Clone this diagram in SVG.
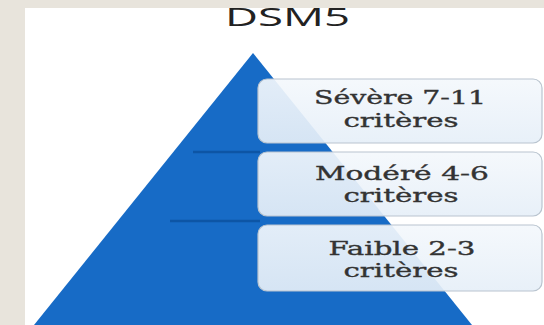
<svg xmlns="http://www.w3.org/2000/svg" width="544" height="325" viewBox="0 0 544 325">
  <defs>
    <linearGradient id="boxFill" x1="0" y1="0" x2="0" y2="1">
      <stop offset="0" stop-color="#f4f8fc"/>
      <stop offset="1" stop-color="#e6eff8"/>
    </linearGradient>
    <style>
      .tier { fill: url(#boxFill); fill-opacity: 0.92; stroke: #b9c4cf; stroke-width: 1.2; }
      .label { font-family: "DejaVu Serif", "Liberation Serif", serif; font-size: 19px; fill: #333333; stroke: #333333; stroke-width: 0.35; text-anchor: middle; }
      .sep { stroke: #0d55a5; stroke-width: 2.5; }
      .title { font-family: "Open Sans", "DejaVu Sans", sans-serif; font-size: 25px; fill: #222222; }
    </style>
  </defs>

  <!-- slide area -->
  <rect x="0" y="0" width="544" height="325" fill="#ffffff"/>

  <!-- title -->
  <text class="title" x="225" y="26" textLength="125" lengthAdjust="spacingAndGlyphs">DSM5</text>

  <!-- page border (top and left), drawn over the title edge -->
  <rect x="0" y="0" width="544" height="8" fill="#e8e4dc"/>
  <rect x="0" y="0" width="25" height="325" fill="#e8e4dc"/>

  <!-- pyramid -->
  <g id="pyramid">
    <polygon points="253,53 472,325 34,325" fill="#176bc6"/>
  </g>

  <!-- tier separators -->
  <g id="connectors">
    <line class="sep" x1="193" y1="152" x2="260" y2="152"/>
    <line class="sep" x1="170" y1="221" x2="260" y2="221"/>
  </g>

  <g id="tier-severe">
    <rect class="tier" x="258" y="79" width="284" height="64" rx="9"/>
    <text class="label" x="400" y="104" textLength="172" lengthAdjust="spacingAndGlyphs">Sévère 7-11</text>
    <text class="label" x="401" y="127" textLength="115" lengthAdjust="spacingAndGlyphs">critères</text>
  </g>

  <g id="tier-modere">
    <rect class="tier" x="258" y="152" width="284" height="64" rx="9"/>
    <text class="label" x="402" y="180" textLength="174" lengthAdjust="spacingAndGlyphs">Modéré 4-6</text>
    <text class="label" x="401" y="202" textLength="115" lengthAdjust="spacingAndGlyphs">critères</text>
  </g>

  <g id="tier-faible">
    <rect class="tier" x="258" y="225" width="284" height="66" rx="9"/>
    <text class="label" x="402" y="255" textLength="147" lengthAdjust="spacingAndGlyphs">Faible 2-3</text>
    <text class="label" x="401" y="277" textLength="115" lengthAdjust="spacingAndGlyphs">critères</text>
  </g>
</svg>
